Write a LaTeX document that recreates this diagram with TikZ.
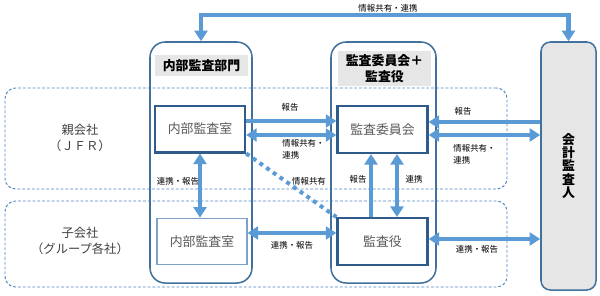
\documentclass[tikz,border=0pt]{standalone}
\usepackage{fontspec}
\setmainfont{Noto Sans CJK JP}
\usetikzlibrary{arrows.meta,positioning}

\definecolor{arrowblue}{HTML}{5B9BD5}
\definecolor{colblue}{HTML}{41719C}
\definecolor{boxblue}{HTML}{2F5C8A}
\definecolor{thinblue}{HTML}{7FA3C8}
\definecolor{regionblue}{HTML}{4F81BD}
\definecolor{headgray}{HTML}{E6E6E6}
\definecolor{textgray}{HTML}{595959}
\definecolor{labelgray}{HTML}{404040}

\begin{document}
\begin{tikzpicture}[x=0.03cm, y=-0.03cm, font=\fontsize{7.2}{10.2}\selectfont,
  regionbox/.style={draw=regionblue, dash pattern=on 2.4pt off 1.7pt, line width=0.8pt,
    rounded corners=9pt, minimum width=15.06cm},
  colbox/.style={draw=colblue, line width=1.3pt, rounded corners=13pt, minimum height=7.23cm},
  headbox/.style={fill=headgray, align=center, minimum width=2.79cm,
    font=\fontsize{11}{13.5}\selectfont\bfseries},
  unitbox/.style={draw=boxblue, line width=2pt, fill=white, minimum width=2.7cm,
    minimum height=1.4cm, text=textgray, font=\fontsize{11}{13}\selectfont},
  sidelbl/.style={align=center, text=labelgray, font=\fontsize{10.5}{13.6}\selectfont},
  arr/.style={line width=3.6pt, draw=arrowblue, -{Triangle[length=9pt,width=11pt]}},
  dblarr/.style={arr, {Triangle[length=9pt,width=11pt]}-{Triangle[length=9pt,width=11pt]}},
  dotline/.style={draw=arrowblue, line width=3.4pt, dash pattern=on 3.4pt off 3.6pt},
  lbl/.style={inner sep=1pt}]
  \useasboundingbox (0,0) rectangle (600,295);

  % ----- regions -----
  \node[regionbox, minimum height=3.03cm] (oya) at (256,138.5) {};
  \node[regionbox, minimum height=2.58cm] (ko) at (256,244) {};
  \node[sidelbl] (oyalbl) at (80,138) {親会社\\（ＪＦＲ）};
  \node[sidelbl] (kolbl) at (80,241) {子会社\\（グループ各社）};

  % ----- columns -----
  \node[colbox, minimum width=3.06cm] (bumon) at (201,162.5) {};
  \node[colbox, minimum width=3.15cm] (kansa) at (383.5,162.5) {};
  \node[headbox, minimum height=0.63cm] (bumonhd) at (201.5,65.5) {内部監査部門};
  \node[headbox, minimum height=0.99cm] (kansahd) at (384.5,68.5) {監査委員会＋\\監査役};

  % ----- units -----
  \node[unitbox] (oyashitsu) at (200,129) {内部監査室};
  \node[unitbox, draw=thinblue, line width=0.9pt] (koshitsu) at (202,241.5) {内部監査室};
  \node[unitbox] (iinkai) at (382.5,129.5) {監査委員会};
  \node[unitbox] (yaku) at (382.5,241.5) {監査役};
  \node[draw=colblue, line width=1.3pt, fill=headgray, rounded corners=8pt,
    minimum width=1.65cm, minimum height=7.44cm, align=center,
    font=\fontsize{11}{11.4}\selectfont\bfseries] (kaikei) at (568.5,166)
    {会\\計\\監\\査\\人};

  % ----- connectors -----
  \draw[dblarr] (bumon.north) -- ++(0,-26) -| (kaikei.north);
  \draw[arr] (oyashitsu.east |- 0,121) -- (iinkai.west |- 0,121);
  \draw[dblarr] (oyashitsu.east |- 0,135) -- (iinkai.west |- 0,135);
  \draw[arr] (kaikei.west |- 0,122) -- (iinkai.east |- 0,122);
  \draw[dblarr] (iinkai.east |- 0,135) -- (kaikei.west |- 0,135);
  \draw[dblarr] (oyashitsu.south) -- (oyashitsu.south |- koshitsu.north);
  \draw[arr] (yaku.north -| 371,0) -- (iinkai.south -| 371,0);
  \draw[dblarr] (yaku.north -| 397,0) -- (iinkai.south -| 397,0);
  \draw[dblarr] (koshitsu.east |- 0,233) -- (yaku.west |- 0,233);
  \draw[dblarr] (yaku.east |- 0,239) -- (kaikei.west |- 0,239);
  \draw[dotline] (oyashitsu.south east) -- (yaku.north west);

  % ----- labels -----
  \node[lbl] (toplbl) at (388,8) {情報共有・連携};
  \node[lbl] (hokoku1) at (290,107) {報告};
  \node[lbl, align=left, anchor=west] (kyoyu1) at (281,149) {情報共有・\\連携};
  \node[lbl] (hokoku2) at (463,111) {報告};
  \node[lbl, align=left, anchor=west] (kyoyu2) at (452,154) {情報共有・\\連携};
  \node[lbl] (renkei1) at (178,181) {連携・報告};
  \node[lbl] (kyoyu3) at (309,181) {情報共有};
  \node[lbl] (hokoku3) at (358,179) {報告};
  \node[lbl] (renkei2) at (414,179) {連携};
  \node[lbl] (renkei3) at (292,245) {連携・報告};
  \node[lbl] (renkei4) at (477,249) {連携・報告};
\end{tikzpicture}
\end{document}
